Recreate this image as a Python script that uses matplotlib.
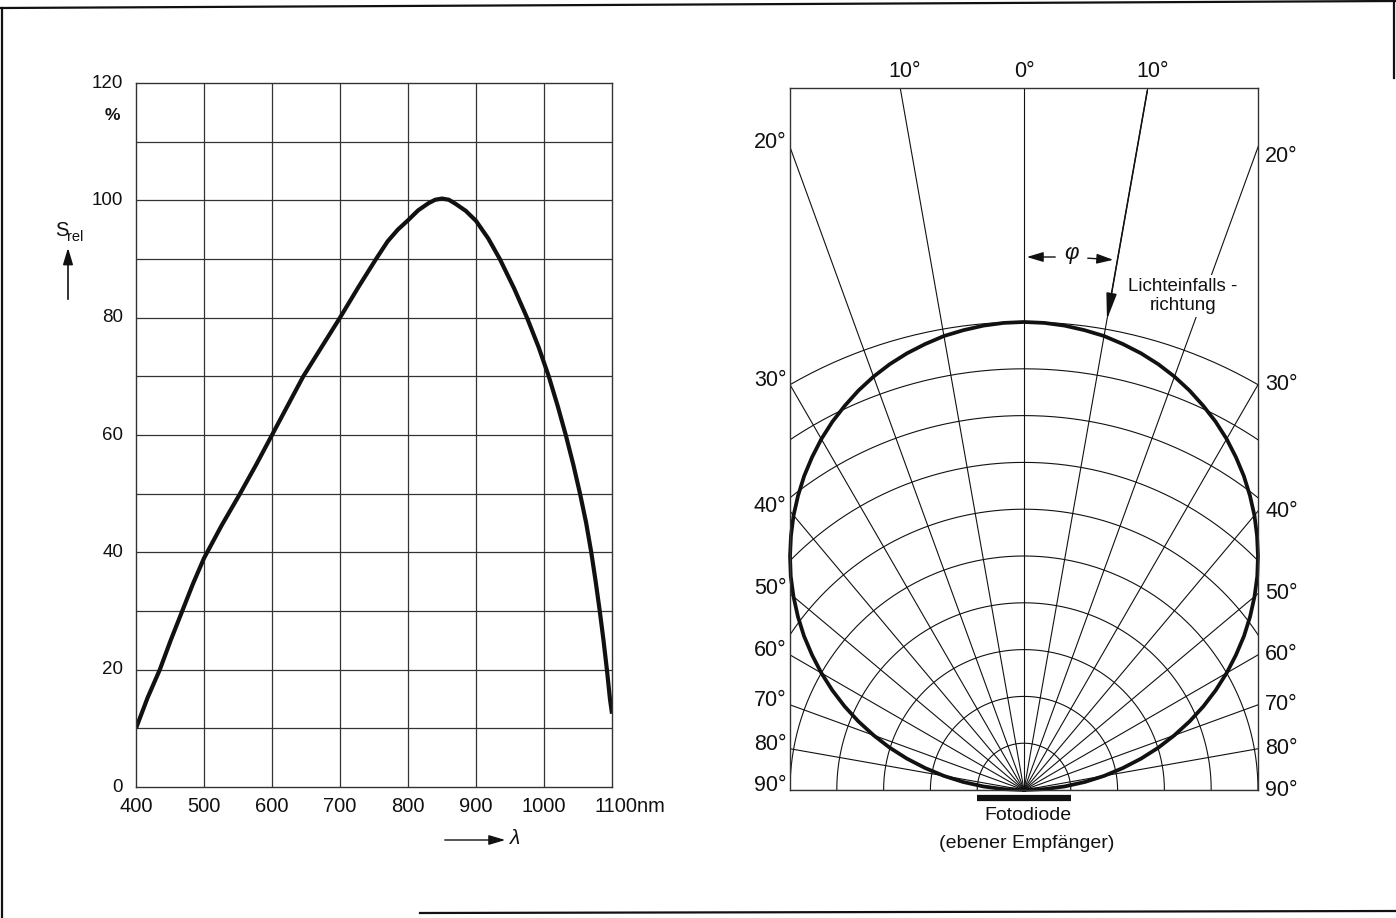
import numpy as np
import matplotlib.pyplot as plt
from matplotlib.lines import Line2D
from matplotlib.patches import FancyArrowPatch

plt.rcParams['font.family'] = ['Liberation Sans', 'DejaVu Sans']

# --- spectral sensitivity (left) ---
wavelength = [400, 417, 435, 451, 468, 484, 500, 526, 553, 577, 600, 623, 646, 673, 700,
              727, 753, 770, 785, 800, 815, 830, 840, 850, 860, 870, 885, 900, 918, 935,
              956, 975, 992, 1007, 1020, 1032, 1043, 1053, 1062, 1069.5, 1076, 1082, 1087.5,
              1092.5, 1097, 1100]
s_rel = [10, 15.2, 20, 25, 30, 34.7, 39, 44.6, 50, 55, 60, 65, 70, 75, 80,
         85.2, 90, 93, 95, 96.6, 98.3, 99.5, 100.1, 100.3, 100.1, 99.4, 98.2, 96.5, 93.5, 90,
         85, 80, 75, 70, 65, 60, 55, 50, 45, 40, 35, 30, 25,
         20, 15, 12.5]
x_ticks = [400, 500, 600, 700, 800, 900, 1000, 1100]
x_labels = ['400', '500', '600', '700', '800', '900', '1000', '1100nm']
y_ticks = [0, 20, 40, 60, 80, 100, 120]

# --- directional characteristic (right) ---
phi_deg = [0, 2.5, 5, 7.5, 10, 12.5, 15, 17.5, 20, 22.5, 25, 27.5, 30, 32.5, 35, 37.5,
           40, 42.5, 45, 47.5, 50, 52.5, 55, 57.5, 60, 62.5, 65, 67.5, 70, 72.5, 75,
           77.5, 80, 82.5, 85, 87.5, 90]
s_dir = [1.000, 0.999, 0.996, 0.991, 0.985, 0.976, 0.966, 0.954, 0.940, 0.924, 0.906,
         0.887, 0.866, 0.843, 0.819, 0.793, 0.766, 0.737, 0.707, 0.676, 0.643, 0.609,
         0.574, 0.537, 0.500, 0.462, 0.423, 0.383, 0.342, 0.301, 0.259, 0.216, 0.174,
         0.131, 0.087, 0.044, 0.000]
ring_levels = [0.1, 0.2, 0.3, 0.4, 0.5, 0.6, 0.7, 0.8, 0.9, 1.0]
spoke_deg = list(range(-90, 91, 10))
side_labels = [20, 30, 40, 50, 60, 70, 80, 90]

W, H = 1396, 918
fig = plt.figure(figsize=(W / 100, H / 100), dpi=100)


def fx(px):
    return px / W


def fy(py):
    return 1 - py / H


ink = '#111111'
grid_c = '#333333'
arrow_style = '-|>,head_length=0.5,head_width=0.15'

# ---------------- left chart ----------------
ax1 = fig.add_axes([fx(136), fy(787), fx(612) - fx(136), fy(83) - fy(787)])
ax1.set_xlim(400, 1100)
ax1.set_ylim(0, 120)
for x in range(500, 1100, 100):
    ax1.axvline(x, color=grid_c, lw=0.9)
for y in range(10, 120, 10):
    ax1.axhline(y, color=grid_c, lw=0.9)
ax1.plot(wavelength, s_rel, color=ink, lw=3.0, solid_capstyle='butt', solid_joinstyle='round')
ax1.set_xticks([])
ax1.set_yticks([])
for s in ax1.spines.values():
    s.set_linewidth(1.0)
    s.set_color(grid_c)

xt = ax1.get_xaxis_transform()
for x, lab in zip(x_ticks, x_labels):
    if lab.endswith('nm'):
        ax1.text(x - 26, -0.027, lab, transform=xt, ha='left', va='center', fontsize=14.5, color=ink)
    else:
        ax1.text(x, -0.027, lab, transform=xt, ha='center', va='center', fontsize=14.5, color=ink)
yt = ax1.get_yaxis_transform()
for y in y_ticks:
    ax1.text(-0.027, y, str(y), transform=yt, ha='right', va='center', fontsize=13.5, color=ink)
ax1.text(-0.05, 114.5, '%', transform=yt, ha='center', va='center', fontsize=12.5,
         fontweight='bold', color=ink)

# S_rel label and arrow
fig.text(fx(55), fy(231), 'S', ha='left', va='center', fontsize=14.5, color=ink)
fig.text(fx(67.5), fy(237), 'rel', ha='left', va='center', fontsize=10.5, color=ink)
fig.add_artist(FancyArrowPatch((fx(68), fy(302)), (fx(68), fy(245)), transform=fig.transFigure,
                               arrowstyle=arrow_style, mutation_scale=20, lw=1.2, color=ink))
# lambda arrow
fig.add_artist(FancyArrowPatch((fx(442), fy(840)), (fx(508), fy(840)), transform=fig.transFigure,
                               arrowstyle=arrow_style, mutation_scale=20, lw=1.0, color=ink))
fig.text(fx(510), fy(838), 'λ', ha='left', va='center', fontsize=15, style='italic', color=ink)

# ---------------- right chart ----------------
ax2 = fig.add_axes([fx(790), fy(790), fx(1258) - fx(790), fy(88) - fy(790)])
ax2.set_xlim(-0.5, 0.5)
ax2.set_ylim(0, 1.5)
ax2.set_xticks([])
ax2.set_yticks([])
for s in ax2.spines.values():
    s.set_linewidth(1.0)
    s.set_color(grid_c)

t = np.radians(np.linspace(-90, 90, 361))
for r in ring_levels:
    ax2.plot(r * np.sin(t), r * np.cos(t), color=ink, lw=0.8)
for d in spoke_deg:
    a = np.radians(d)
    ax2.plot([0, 3 * np.sin(a)], [0, 3 * np.cos(a)], color=ink, lw=0.8)

phi_full = np.radians([-p for p in phi_deg[::-1]] + phi_deg[1:])
s_full = np.array(s_dir[::-1] + s_dir[1:])
ax2.plot(s_full * np.sin(phi_full), s_full * np.cos(phi_full), color=ink, lw=2.7,
         solid_joinstyle='round', clip_on=False)

# incidence arrow on the 10 deg spoke
a10 = np.radians(10)
ax2.add_patch(FancyArrowPatch((1.5 * np.tan(a10), 1.5), (1.015 * np.sin(a10), 1.015 * np.cos(a10)),
                              arrowstyle='-|>,head_length=0.8,head_width=0.16',
                              mutation_scale=20, lw=1.1, color=ink, clip_on=False))

# angle labels
fs = 15.5
ax2.text(0, 1.5 + 0.035, '0°', ha='center', va='center', fontsize=fs, color=ink)
for sgn in (-1, 1):
    ax2.text(sgn * 1.5 * np.tan(a10) + 0.01, 1.5 + 0.035, '10°', ha='center', va='center',
             fontsize=fs, color=ink)
for d in side_labels:
    yy = 0.5 / np.tan(np.radians(d))
    ax2.text(-0.508, yy + 0.01, f'{d}°', ha='right', va='center', fontsize=fs, color=ink)
    ax2.text(0.515, yy - (0.02 if d == 20 else 0), f'{d}°', ha='left', va='center',
             fontsize=fs, color=ink)

# photodiode bar and caption
ax2.plot([-0.1, 0.1], [-0.018, -0.018], color=ink, lw=4.5, solid_capstyle='butt', clip_on=False)
fig.text(fx(1028), fy(816), 'Fotodiode', ha='center', va='center', fontsize=14, color=ink)
fig.text(fx(1027), fy(843), '(ebener Empfänger)', ha='center', va='center', fontsize=14, color=ink)

# phi marker
fig.add_artist(FancyArrowPatch((fx(1058), fy(257)), (fx(1024), fy(257)), transform=fig.transFigure,
                               arrowstyle=arrow_style, mutation_scale=20, lw=1.0, color=ink))
fig.add_artist(FancyArrowPatch((fx(1085), fy(258)), (fx(1116), fy(260)), transform=fig.transFigure,
                               arrowstyle=arrow_style, mutation_scale=20, lw=1.0, color=ink))
fig.text(fx(1071), fy(254), 'φ', ha='center', va='center', fontsize=16, style='italic', color=ink)

fig.text(fx(1183), fy(296), 'Lichteinfalls -\nrichtung', ha='center', va='center',
         multialignment='center', fontsize=13.5, color=ink, linespacing=1.2,
         bbox=dict(boxstyle='square,pad=0.15', fc='white', ec='none'))

# scanned page frame
frame = [([0, W], [8, 1]), ([1.5, 1.5], [8, H]), ([420, W], [913, 911]), ([1394, 1394], [0, 78])]
for xs, ys in frame:
    fig.add_artist(Line2D([fx(v) for v in xs], [fy(v) for v in ys], transform=fig.transFigure,
                          lw=1.6, color=ink))

fig.savefig('out.png', dpi=100, facecolor='white')
